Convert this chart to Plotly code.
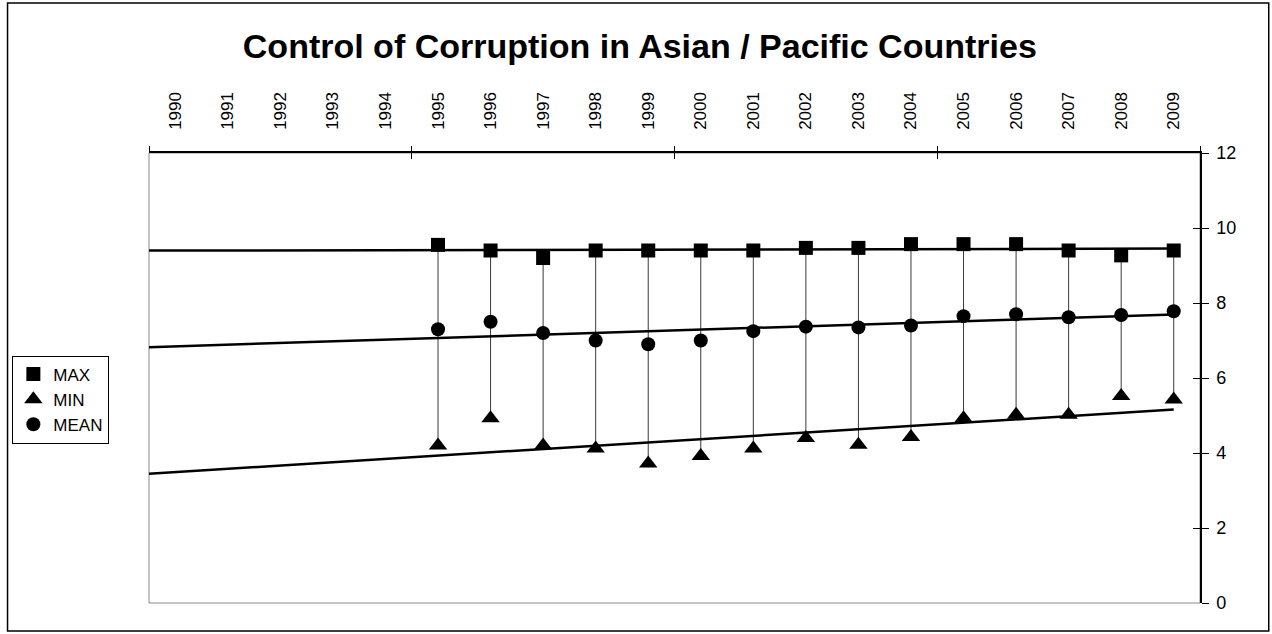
import numpy as np
import plotly.graph_objects as go

years = [str(y) for y in range(1990, 2010)]
data_years = list(range(1995, 2010))
max_vals = [9.55, 9.4, 9.2, 9.4, 9.4, 9.4, 9.4, 9.47, 9.47, 9.57, 9.57, 9.57, 9.4, 9.27, 9.4]
min_vals = [4.2, 4.93, 4.2, 4.12, 3.72, 3.92, 4.12, 4.4, 4.22, 4.43, 4.93, 5.02, 5.02, 5.52, 5.43]
mean_vals = [7.3, 7.5, 7.2, 7.0, 6.9, 7.0, 7.25, 7.37, 7.35, 7.4, 7.65, 7.7, 7.62, 7.68, 7.78]

FONT = "Arial, Liberation Sans, sans-serif"
x = np.array([y - 1990 for y in data_years], dtype=float)

fig = go.Figure()

# high-low connectors
vx, vy = [], []
for xi, hi, lo in zip(x, max_vals, min_vals):
    vx += [xi, xi, None]
    vy += [hi, lo, None]
fig.add_scatter(x=vx, y=vy, mode="lines", line=dict(color="#3a3a3a", width=1),
                showlegend=False, hoverinfo="skip")

# linear trend lines, extended back to the start of the axis
xt = np.array([-0.5, x[-1]])
for vals in (max_vals, mean_vals, min_vals):
    k, b = np.polyfit(x, vals, 1)
    fig.add_scatter(x=xt, y=k * xt + b, mode="lines", line=dict(color="black", width=2.5),
                    showlegend=False, hoverinfo="skip")

for name, vals, sym, size in [("MAX", max_vals, "square", 14),
                               ("MIN", min_vals, "triangle-up", 16),
                               ("MEAN", mean_vals, "circle", 14)]:
    fig.add_scatter(x=x, y=vals, mode="markers", name=name,
                    marker=dict(symbol=sym, size=size, color="black"))

# carriers for the crossing tick marks
fig.add_scatter(x=[None], y=[None], xaxis="x2", yaxis="y2", showlegend=False, hoverinfo="skip")
fig.add_scatter(x=[None], y=[None], xaxis="x3", showlegend=False, hoverinfo="skip")

bounds = [-0.5, 4.5, 9.5, 14.5, 19.5]
tickfont = dict(family=FONT, size=17, color="black")
edge_ticks = dict(range=[-0.5, 19.5], overlaying="x", side="top", anchor="y",
                  tickmode="array", tickvals=bounds, ticklen=6, tickcolor="black",
                  showticklabels=False, showgrid=False, zeroline=False)

fig.update_layout(
    width=1272, height=634,
    paper_bgcolor="white", plot_bgcolor="white",
    margin=dict(l=145, r=72, t=153, b=31),
    font=dict(family=FONT, color="black"),
    title=dict(text="<b>Control of Corruption in Asian / Pacific Countries</b>",
               x=0.503, xanchor="center", y=0.928, yanchor="middle",
               font=dict(family=FONT, size=34, color="black")),
    xaxis=dict(range=[-0.5, 19.5], side="top", tickmode="array",
               tickvals=list(range(20)), ticktext=years, tickangle=-90,
               ticks="", showgrid=False, zeroline=False, showline=True,
               linecolor="black", linewidth=1.5, tickfont=tickfont, ticklabelstandoff=18),
    xaxis2=dict(edge_ticks, ticks="outside"),
    xaxis3=dict(edge_ticks, ticks="inside"),
    yaxis=dict(range=[0, 12], side="right", dtick=2, ticks="outside", ticklen=7,
               tickcolor="black", showgrid=False, zeroline=False, showline=True,
               linecolor="black", linewidth=1.5, tickfont=dict(family=FONT, size=18, color="black"),
               ticklabelstandoff=4),
    yaxis2=dict(range=[0, 12], overlaying="y", side="right", anchor="x", dtick=2,
                ticks="inside", ticklen=7, tickcolor="black", showticklabels=False,
                showgrid=False, zeroline=False),
    legend=dict(x=-0.13, xanchor="left", y=0.55, yanchor="top",
                bgcolor="white", bordercolor="black", borderwidth=1,
                font=dict(family=FONT, size=17, color="black"),
                itemwidth=30, tracegroupgap=0),
    showlegend=True,
)

# plot-area frame and chart-area frame
fig.add_shape(type="rect", xref="paper", yref="paper", x0=0, x1=1, y0=0, y1=1,
              line=dict(color="#8a8a8a", width=1), layer="below")
fig.add_shape(type="rect", xref="paper", yref="paper",
              x0=(3 - 145) / 1055, x1=(1269 - 145) / 1055,
              y0=(603 - 631) / 450, y1=(603 - 3) / 450,
              line=dict(color="black", width=1.5), layer="below")

fig.write_html("out.html", config={"displayModeBar": False},
               post_script="document.body.style.margin='0';")
